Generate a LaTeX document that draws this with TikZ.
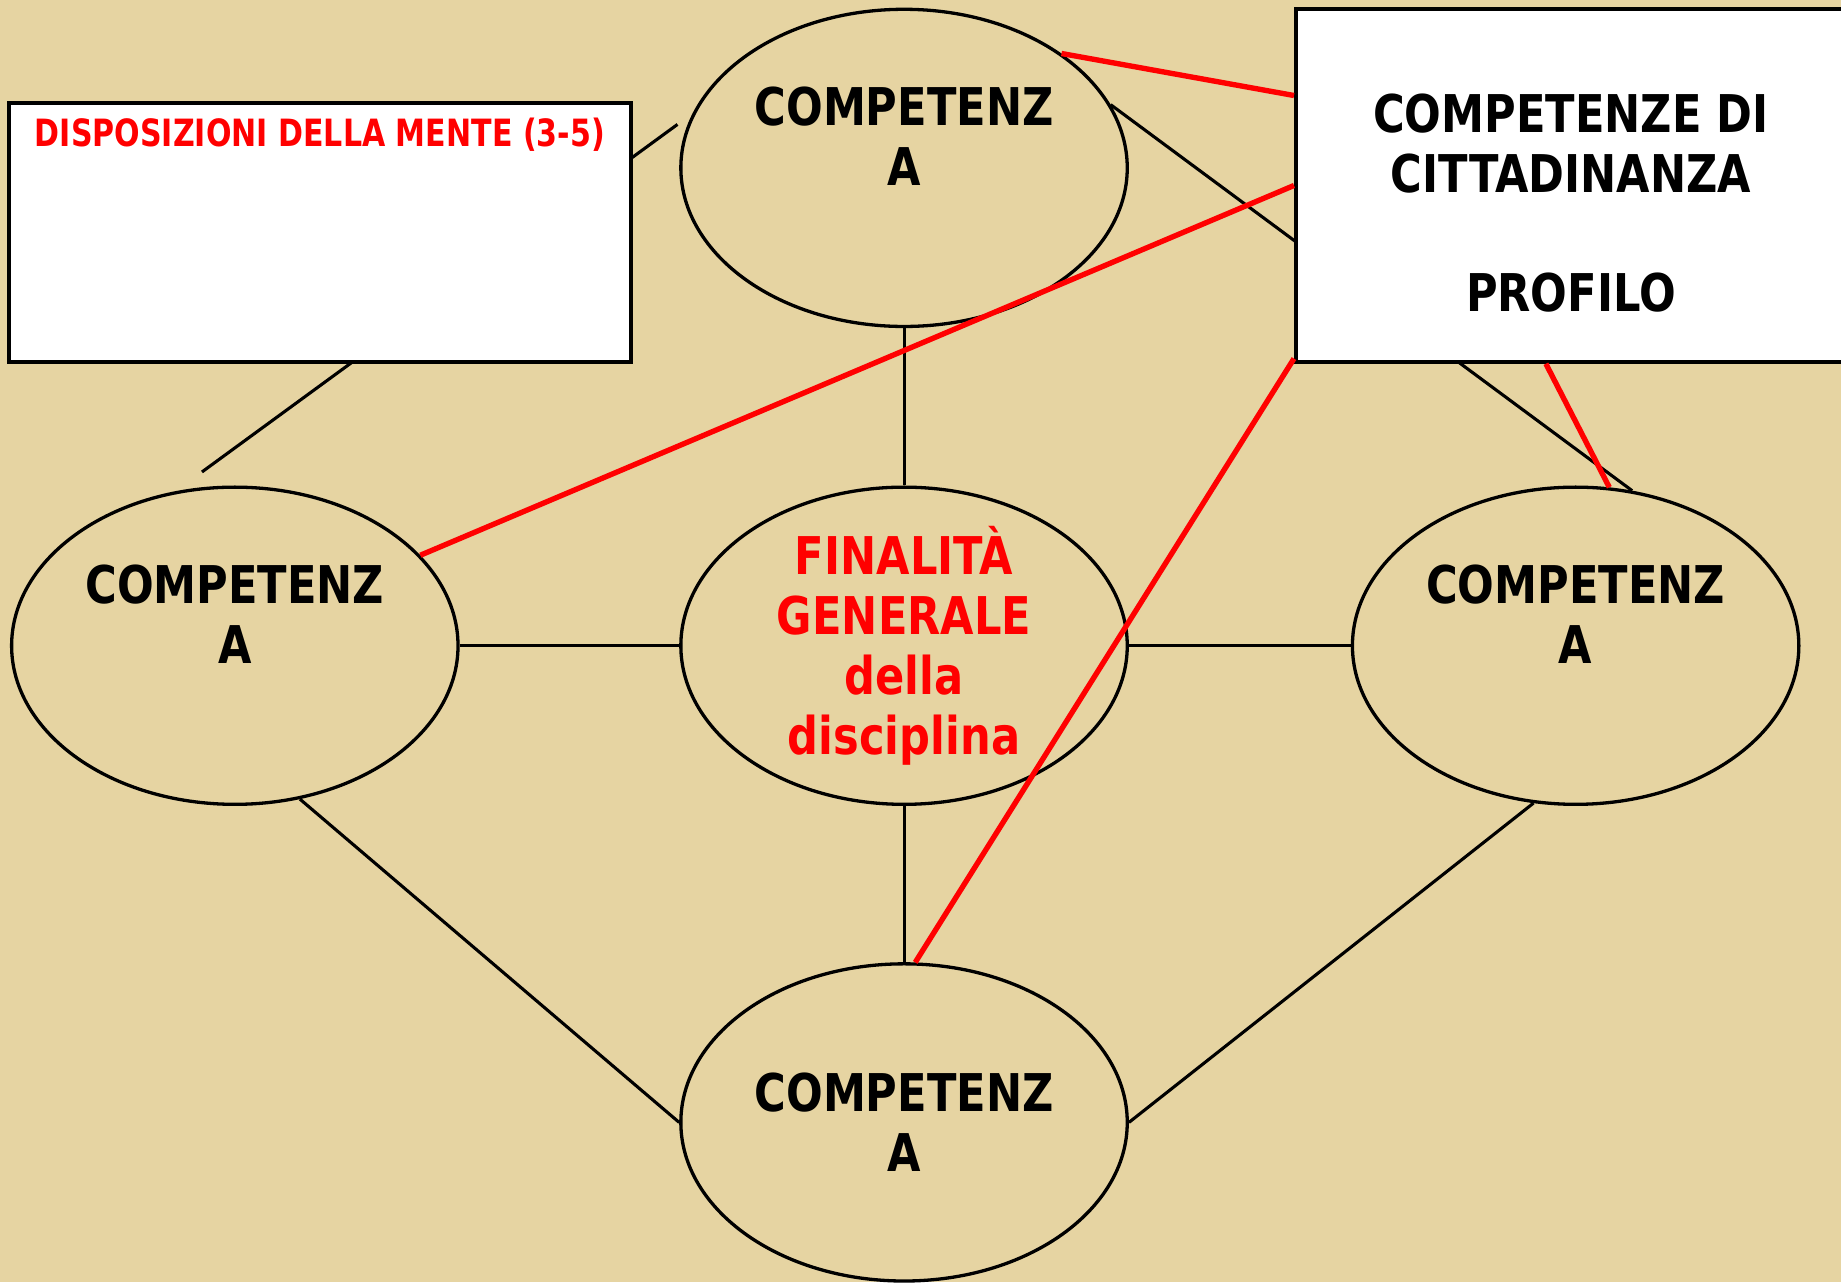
\documentclass[tikz,border=0pt]{standalone}
\usepackage{fontspec}
\setmainfont{DejaVu Sans}[FakeStretch=0.83]
\newfontfamily\narrowfont{DejaVu Sans}[FakeStretch=0.80]
\usetikzlibrary{shapes.geometric}
\definecolor{parch}{RGB}{230,212,162}
\definecolor{redline}{RGB}{255,0,0}
\tikzset{
comp/.style={ellipse, draw, line width=0.8pt, minimum width=3.8cm, minimum height=2.7cm, inner sep=0pt},
card/.style={rectangle, draw, fill=white, line width=1pt, inner sep=0pt},
txt/.style={align=center, inner sep=0pt, font=\bfseries\fontsize{12.6}{14.5}\selectfont},
link/.style={line width=0.75pt},
redlink/.style={redline, line width=1.3pt}
}

\begin{document}
\begin{tikzpicture}[x=0.01cm, y=-0.01cm]
\useasboundingbox (0,0) rectangle (1568,1092);
\clip (0,0) rectangle (1568,1092);
\fill[parch] (0,0) rectangle (1568,1092);

\node[comp] (top) at (770,143) {};
\node[comp] (left) at (200,550) {};
\node[comp] (mid) at (770,550) {};
\node[comp] (right) at (1342,550) {};
\node[comp] (bot) at (770,956) {};

\node[txt] (ttop) at ([yshift=0.27cm]top.center) {COMPETENZ\\A};
\node[txt] (tleft) at ([yshift=0.27cm]left.center) {COMPETENZ\\A};
\node[txt] (tright) at ([yshift=0.27cm]right.center) {COMPETENZ\\A};
\node[txt] (tbot) at (bot.center) {COMPETENZ\\A};
\node[txt, redline] (tmid) at (mid.center) {FINALITÀ\\GENERALE\\della\\disciplina};

\coordinate (dl) at (172,402);
\coordinate (dt) at (577,106);

\draw[link] (top) -- (mid);
\draw[link] (left) -- (mid);
\draw[link] (mid) -- (right);
\draw[link] (mid) -- (bot);
\draw[link] (left.-67) -- (bot.west);
\draw[link] (right.-105) -- (bot.east);
\draw[link] (dl) -- (dt);
\draw[link] (top.17.6) -- (right.70);

\node[card, minimum width=5.29cm, minimum height=2.2cm] (disp) at (272.5,198) {};
\node[txt, redline, anchor=base, font=\narrowfont\bfseries\fontsize{9.1}{11}\selectfont] (tdisp) at ([yshift=-0.39cm]disp.north) {DISPOSIZIONI DELLA MENTE (3-5)};

\node[card, minimum width=4.68cm, minimum height=3cm] (prof) at (1338,158) {};
\node[txt] (tprof) at ([yshift=-0.15cm]prof.center) {COMPETENZE DI\\CITTADINANZA\\\mbox{}\\PROFILO};

\draw[redlink] (top.36) -- (prof.162);
\draw[redlink] (left.26) -- (prof.west);
\draw[redlink] (bot.86) -- (prof.212);
\draw[redlink] (prof.262) -- (right.78);
\end{tikzpicture}
\end{document}
